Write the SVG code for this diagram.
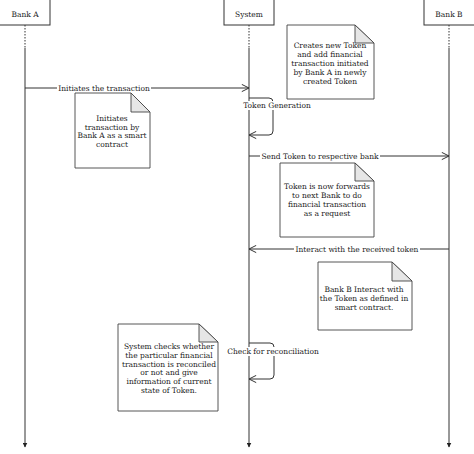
<svg xmlns="http://www.w3.org/2000/svg" width="474" height="454" viewBox="0 0 474 454">
<defs>
<marker id="open" viewBox="0 0 10 10" refX="9" refY="5" markerWidth="9" markerHeight="9" markerUnits="userSpaceOnUse" orient="auto">
<path d="M1,1 L9,5 L1,9" fill="none" stroke="#333" stroke-width="1.1"/>
</marker>
<marker id="tri" viewBox="0 0 10 10" refX="9" refY="5" markerWidth="5" markerHeight="5" markerUnits="userSpaceOnUse" orient="auto">
<path d="M0,0 L10,5 L0,10 Z" fill="#222"/>
</marker>
</defs>
<style>
text{font-family:"DejaVu Serif","Liberation Serif",serif;font-size:7.5px;fill:#222;text-anchor:middle}
.box{fill:#fff;stroke:#333;stroke-width:1}
.note{fill:#fff;stroke:#444;stroke-width:0.9}
.fold{fill:#e6e6e6;stroke:#444;stroke-width:0.9}
.dot{stroke:#333;stroke-width:1;stroke-dasharray:1.5,1.5;fill:none}
.life{stroke:#333;stroke-width:1;fill:none}
.msg{stroke:#333;stroke-width:1;fill:none}
.lbg{fill:#fff}
</style>
<rect width="474" height="454" fill="#fff"/>
<g id="bankA">
<rect class="box" x="-1" y="-1" width="51" height="26"/>
<text x="25" y="16.5">Bank A</text>
</g>
<g id="system">
<rect class="box" x="224" y="-1" width="50" height="26"/>
<text x="249" y="16.5">System</text>
</g>
<g id="bankB">
<rect class="box" x="424" y="-1" width="51" height="26"/>
<text x="449" y="16.5">Bank B</text>
</g>
<g id="lifelines">
<path class="dot" d="M25,25 V48 M249,25 V48 M449,25 V48"/>
<path class="life" d="M25,48 V447" marker-end="url(#tri)"/>
<path class="life" d="M249,48 V447" marker-end="url(#tri)"/>
<path class="life" d="M449,48 V447" marker-end="url(#tri)"/>
</g>
<g id="connectors">
<path class="msg" d="M25,88 H249" marker-end="url(#open)"/>
<rect class="lbg" x="57" y="84" width="94" height="9"/>
<text x="104" y="90.7">Initiates the transaction</text>
<path class="msg" d="M249,98 H269 Q273,98 273,102 V131 Q273,135 269,135 H249" marker-end="url(#open)"/>
<rect class="lbg" x="240" y="101" width="74" height="9"/>
<text x="277" y="107.7">Token Generation</text>
<path class="msg" d="M249,156 H449" marker-end="url(#open)"/>
<rect class="lbg" x="260" y="152" width="120" height="9"/>
<text x="320" y="158.7">Send Token to respective bank</text>
<path class="msg" d="M449,249 H249" marker-end="url(#open)"/>
<rect class="lbg" x="294" y="245" width="126" height="9"/>
<text x="357" y="251.7">Interact with the received token</text>
<path class="msg" d="M249,343 H270 Q274,343 274,347 V375 Q274,379 270,379 H249" marker-end="url(#open)"/>
<rect class="lbg" x="226" y="347" width="94" height="9"/>
<text x="273" y="353.7">Check for reconciliation</text>
</g>
<g id="note1">
<path class="note" d="M287,25 H355 L374,43 V99 H287 Z"/>
<path class="fold" d="M355,25 V43 H374 Z"/>
<text x="330" y="47.7">Creates new Token</text>
<text x="330" y="56.7">and add financial</text>
<text x="330" y="65.7">transaction initiated</text>
<text x="330" y="74.7">by Bank A in newly</text>
<text x="330" y="83.7">created Token</text>
</g>
<g id="note2">
<path class="note" d="M75,93 H131 L150,112 V168 H75 Z"/>
<path class="fold" d="M131,93 V112 H150 Z"/>
<text x="112" y="120.7">Initiates</text>
<text x="112" y="129.7">transaction by</text>
<text x="112" y="138.4">Bank A as a smart</text>
<text x="112" y="147.2">contract</text>
</g>
<g id="note3">
<path class="note" d="M280,163 H355 L374,181 V237 H280 Z"/>
<path class="fold" d="M355,163 V181 H374 Z"/>
<text x="327" y="188.7">Token is now forwards</text>
<text x="327" y="197.7">to next Bank to do</text>
<text x="327" y="206.7">financial transaction</text>
<text x="327" y="215.7">as a request</text>
</g>
<g id="note4">
<path class="note" d="M318,262 H392 L412,281 V330 H318 Z"/>
<path class="fold" d="M392,262 V281 H412 Z"/>
<text x="364" y="291.7">Bank B Interact with</text>
<text x="364" y="300.7">the Token as defined in</text>
<text x="364" y="309.7">smart contract.</text>
</g>
<g id="note5">
<path class="note" d="M118,324 H199 L218,342 V411 H118 Z"/>
<path class="fold" d="M199,324 V342 H218 Z"/>
<text x="169" y="348.7">System checks whether</text>
<text x="169" y="357.6">the particular financial</text>
<text x="169" y="366.5">transaction is reconciled</text>
<text x="169" y="375.4">or not and give</text>
<text x="169" y="384.3">information of current</text>
<text x="169" y="393.2">state of Token.</text>
</g>
</svg>
